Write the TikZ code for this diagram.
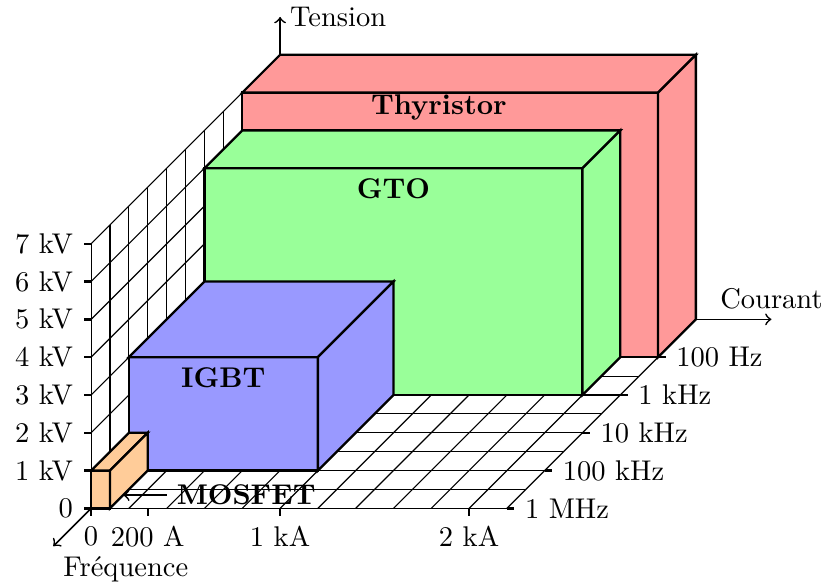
\documentclass[tikz,border=0pt]{standalone}
\usepackage{tikz}

\begin{document}
\begin{tikzpicture}[x=0.466cm,y=0.466cm,z={(0.466cm,0.466cm)},>=to,
        box/.style={thick,draw=black},
        tick/.style={thick},
        axis/.style={semithick,->},
        label/.style={font=\bfseries}]
        \useasboundingbox (-2.41,-2.08) rectangle (19.39,13.45);

        % draw the grid on the floor
        \foreach \z in {0,0.5,...,5}
                \draw (0,0,\z) -- (11,0,\z);
        \foreach \x in {0,...,11}
                \draw (\x,0,0) -- (\x,0,5);

        % draw the grid on the left wall
        \foreach \z in {0,0.5,...,5}
                \draw (0,0,\z) -- (0,7,\z);
        \foreach \y in {0,...,7}
                \draw (0,\y,0) -- (0,\y,5);

        % draw the thyristor box
        \filldraw[box,fill=red!40] (0,0,4) -- (11,0,4) -- (11,7,4) -- (0,7,4) -- cycle;
        \filldraw[box,fill=red!40] (0,7,4) -- (11,7,4) -- (11,7,5) -- (0,7,5) -- cycle;
        \filldraw[box,fill=red!40] (11,0,4) -- (11,0,5) -- (11,7,5) -- (11,7,4) -- cycle;
        \node[label] (thyristor) at (5.2,6.6,4) {Thyristor};

        % draw the GTO box
        \filldraw[box,fill=green!40] (0,0,3) -- (10,0,3) -- (10,6,3) -- (0,6,3) -- cycle;
        \filldraw[box,fill=green!40] (0,6,3) -- (10,6,3) -- (10,6,4) -- (0,6,4) -- cycle;
        \filldraw[box,fill=green!40] (10,0,3) -- (10,0,4) -- (10,6,4) -- (10,6,3) -- cycle;
        \node[label,below] (gto) at (5,6,3) {GTO};

        % draw the IGBT box
        \filldraw[box,fill=blue!40] (0,0,1) -- (5,0,1) -- (5,3,1) -- (0,3,1) -- cycle;
        \filldraw[box,fill=blue!40] (0,3,1) -- (5,3,1) -- (5,3,3) -- (0,3,3) -- cycle;
        \filldraw[box,fill=blue!40] (5,0,1) -- (5,0,3) -- (5,3,3) -- (5,3,1) -- cycle;
        \node[label,below] (igbt) at (2.5,3,1) {IGBT};

        % draw the MOSFET box
        \filldraw[box,fill=orange!40] (0,0,0) -- (0.5,0,0) -- (0.5,1,0) -- (0,1,0) -- cycle;
        \filldraw[box,fill=orange!40] (0,1,0) -- (0.5,1,0) -- (0.5,1,1) -- (0,1,1) -- cycle;
        \filldraw[box,fill=orange!40] (0.5,0,0) -- (0.5,0,1) -- (0.5,1,1) -- (0.5,1,0) -- cycle;
        \coordinate (mtip) at (0.5,0,0.35);
        \node[label,right] (mosfet) at (1.65,0,0.35) {MOSFET};
        \draw[->,semithick] (mosfet) -- (mtip);

        % draw the voltage ticks
        \foreach \y/\ytext in {0/0,1/1 kV,2/2 kV,3/3 kV,4/4 kV,5/5 kV,6/6 kV,7/7 kV}
                \draw[tick] (0,\y,0) -- (-0.2,\y,0) node[left] (v\y) {\ytext};

        % draw the current ticks
        \foreach \x/\xtext/\n in {0/0/0,1.5/200 A/1,5/1 kA/2,10/2 kA/3}
                \draw[tick] (\x,0,0) -- (\x,-0.2,0) node[below] (c\n) {\xtext};

        % draw the frequency ticks
        \foreach \z/\ztext in {0/1 MHz,1/100 kHz,2/10 kHz,3/1 kHz,4/100 Hz}
                \draw[tick] (11,0,\z) -- (11.2,0,\z) node[right] (f\z) {\ztext};

        % draw the axes
        \coordinate (origin) at (0,0,0);
        \coordinate (ftip) at (0,0,-1);
        \coordinate (vbase) at (0,7,5);
        \coordinate (vtip) at (0,8,5);
        \coordinate (cbase) at (11,0,5);
        \coordinate (ctip) at (13,0,5);
        \draw[axis] (origin) -- (ftip);
        \draw[axis] (vbase) -- (vtip);
        \draw[axis] (cbase) -- (ctip);
        \node[below right] (freq) at (ftip) {Fréquence};
        \node[right] (tension) at (vtip) {Tension};
        \node[above] (courant) at (ctip) {Courant};
\end{tikzpicture}
\end{document}
